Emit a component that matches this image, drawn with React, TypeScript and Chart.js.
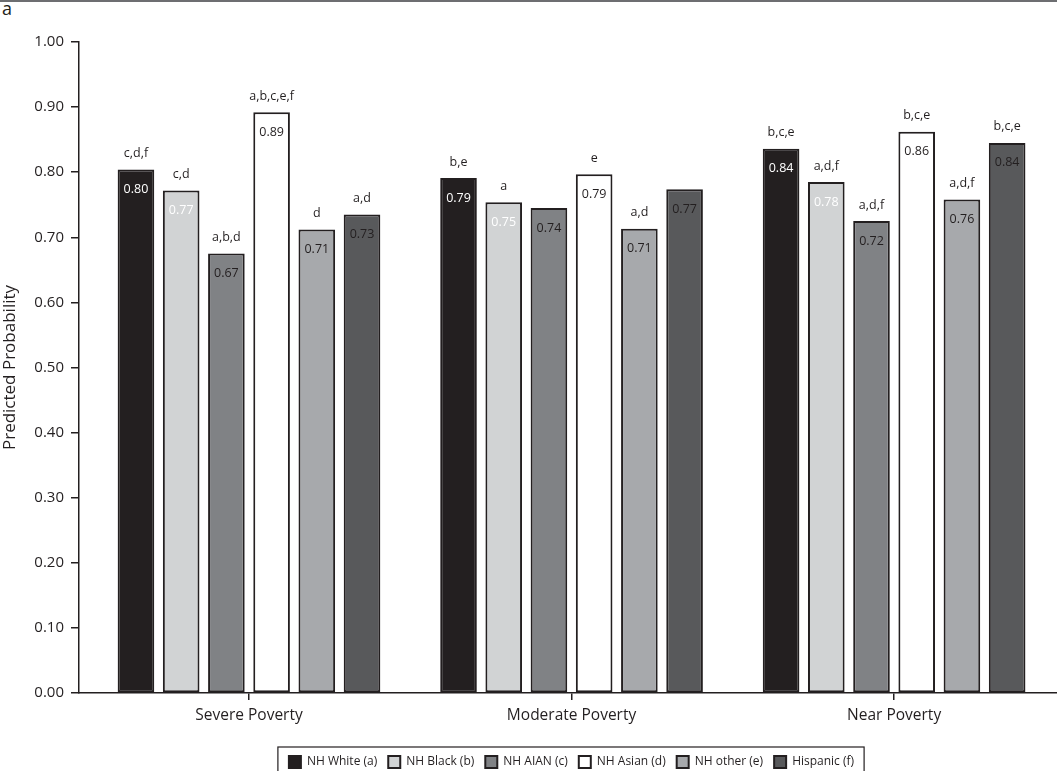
import React, { useEffect, useRef } from "react";
import { Chart, registerables } from "chart.js";

Chart.register(...registerables);

const categories = ["Severe Poverty", "Moderate Poverty", "Near Poverty"];
const groupNames = ["NH White (a)", "NH Black (b)", "NH AIAN (c)", "NH Asian (d)", "NH other (e)", "Hispanic (f)"];

const nhWhite = [0.804, 0.791, 0.836];
const nhBlack = [0.772, 0.754, 0.785];
const nhAian = [0.675, 0.745, 0.725];
const nhAsian = [0.892, 0.797, 0.862];
const nhOther = [0.712, 0.713, 0.758];
const hispanic = [0.735, 0.774, 0.845];

const whiteLabels = ["0.80", "0.79", "0.84"];
const blackLabels = ["0.77", "0.75", "0.78"];
const aianLabels = ["0.67", "0.74", "0.72"];
const asianLabels = ["0.89", "0.79", "0.86"];
const otherLabels = ["0.71", "0.71", "0.76"];
const hispanicLabels = ["0.73", "0.77", "0.84"];

const whiteLetters = ["c,d,f", "b,e", "b,c,e"];
const blackLetters = ["c,d", "a", "a,d,f"];
const aianLetters = ["a,b,d", "", "a,d,f"];
const asianLetters = ["a,b,c,e,f", "e", "b,c,e"];
const otherLetters = ["d", "a,d", "a,d,f"];
const hispanicLetters = ["a,d", "", "b,c,e"];

const yTicks = [0, 0.1, 0.2, 0.3, 0.4, 0.5, 0.6, 0.7, 0.8, 0.9, 1.0];

const FONT = "'Open Sans', 'DejaVu Sans', sans-serif";
const INK = "#231f20";

const seriesValues = [nhWhite, nhBlack, nhAian, nhAsian, nhOther, hispanic];
const seriesLabels = [whiteLabels, blackLabels, aianLabels, asianLabels, otherLabels, hispanicLabels];
const seriesLetters = [whiteLetters, blackLetters, aianLetters, asianLetters, otherLetters, hispanicLetters];
const fills = ["#231f20", "#d1d3d4", "#808285", "#ffffff", "#a7a9ac", "#58595b"];
const valueColors = ["#ffffff", "#ffffff", INK, INK, INK, INK];

const labelPlugin = {
  id: "barLabels",
  afterDatasetsDraw(chart: any) {
    const ctx = chart.ctx;
    ctx.save();
    ctx.textAlign = "center";
    ctx.textBaseline = "middle";
    chart.data.datasets.forEach((ds: any, di: number) => {
      const meta = chart.getDatasetMeta(di);
      meta.data.forEach((bar: any, i: number) => {
        ctx.font = `12.5px ${FONT}`;
        ctx.fillStyle = valueColors[di];
        ctx.fillText(seriesLabels[di][i], bar.x, bar.y + 20);
        const letters = seriesLetters[di][i];
        if (letters) {
          ctx.fillStyle = INK;
          ctx.fillText(letters, bar.x, bar.y - 16);
        }
      });
    });
    ctx.restore();
  },
};

const legendShiftPlugin = {
  id: "legendShift",
  afterLayout(chart: any) {
    const lg = chart.legend;
    if (!lg) return;
    lg.left += 43;
    lg.right += 43;
  },
};

const legendBoxPlugin = {
  id: "legendBox",
  afterDraw(chart: any) {
    const lg = chart.legend;
    if (!lg || !lg.legendHitBoxes || !lg.legendHitBoxes.length) return;
    const hb = lg.legendHitBoxes;
    let l = Infinity, r = -Infinity, t = Infinity, b = -Infinity;
    hb.forEach((h: any) => {
      l = Math.min(l, h.left);
      r = Math.max(r, h.left + h.width);
      t = Math.min(t, h.top);
      b = Math.max(b, h.top + h.height);
    });
    const cy = (t + b) / 2;
    const ctx = chart.ctx;
    ctx.save();
    ctx.strokeStyle = INK;
    ctx.lineWidth = 1.2;
    ctx.strokeRect(l - 11, cy - 15, r - l + 21, 30);
    ctx.restore();
  },
};

export default function App() {
  const ref = useRef<HTMLCanvasElement | null>(null);
  useEffect(() => {
    if (!ref.current) return;
    const chart = new Chart(ref.current, {
      type: "bar",
      data: {
        datasets: seriesValues.map((vals, di) => ({
          label: groupNames[di],
          data: vals.map((v, i) => ({ x: i, y: v })),
          backgroundColor: fills[di],
          borderColor: INK,
          borderWidth: 2,
          borderSkipped: false,
          categoryPercentage: 0.841,
          barPercentage: 0.81,
        })),
      },
      plugins: [labelPlugin, legendShiftPlugin, legendBoxPlugin],
      options: {
        animation: false,
        responsive: false,
        maintainAspectRatio: false,
        layout: { padding: { top: 42, right: 0, bottom: 12, left: 0 } },
        plugins: {
          legend: {
            display: true,
            position: "bottom",
            labels: {
              font: { family: FONT, size: 12 },
              color: INK,
              boxWidth: 12,
              boxHeight: 12,
              padding: 11,
            },
          },
          tooltip: { enabled: false },
        },
        scales: {
          x: {
            type: "linear",
            min: -0.527,
            max: 2.505,
            offset: false,
            afterBuildTicks: (scale: any) => {
              scale.ticks = categories.map((_, i) => ({ value: i }));
            },
            afterFit: (scale: any) => {
              scale.height = 52;
            },
            ticks: {
              callback: (v: any) => categories[v] ?? "",
              font: { family: FONT, size: 15.5 },
              color: INK,
              padding: 6,
              maxRotation: 0,
              autoSkip: false,
            },
            grid: {
              display: true,
              drawOnChartArea: false,
              drawTicks: true,
              tickLength: 7,
              color: INK,
              lineWidth: 1.5,
              offset: false,
            },
            border: { display: true, color: INK, width: 1.5 },
          },
          y: {
            min: 0,
            max: 1,
            afterBuildTicks: (scale: any) => {
              scale.ticks = yTicks.map((v) => ({ value: v }));
            },
            afterFit: (scale: any) => {
              scale.width = 79;
            },
            ticks: {
              callback: (v: any) => Number(v).toFixed(2),
              font: { family: FONT, size: 15 },
              color: INK,
              padding: 7,
            },
            grid: {
              display: true,
              drawOnChartArea: false,
              drawTicks: true,
              tickLength: 8,
              color: INK,
              lineWidth: 1.5,
            },
            border: { display: true, color: INK, width: 1.5 },
            title: {
              display: true,
              text: "Predicted Probability",
              font: { family: FONT, size: 17 },
              color: INK,
              padding: 0,
            },
          },
        },
      } as any,
    });
    return () => chart.destroy();
  }, []);
  return (
    <div style={{ position: "fixed", left: 0, top: 0, width: 1057, height: 790, background: "#fff", overflow: "hidden" }}>
      <div style={{ position: "absolute", left: 0, top: 0, width: 1057, height: 2, background: "#6d6e71" }} />
      <div style={{ position: "absolute", left: 2, top: -4, fontFamily: FONT, fontSize: 18, color: INK }}>a</div>
      <canvas ref={ref} width={1057} height={790} style={{ position: "absolute", left: 0, top: 0 }} />
    </div>
  );
}
